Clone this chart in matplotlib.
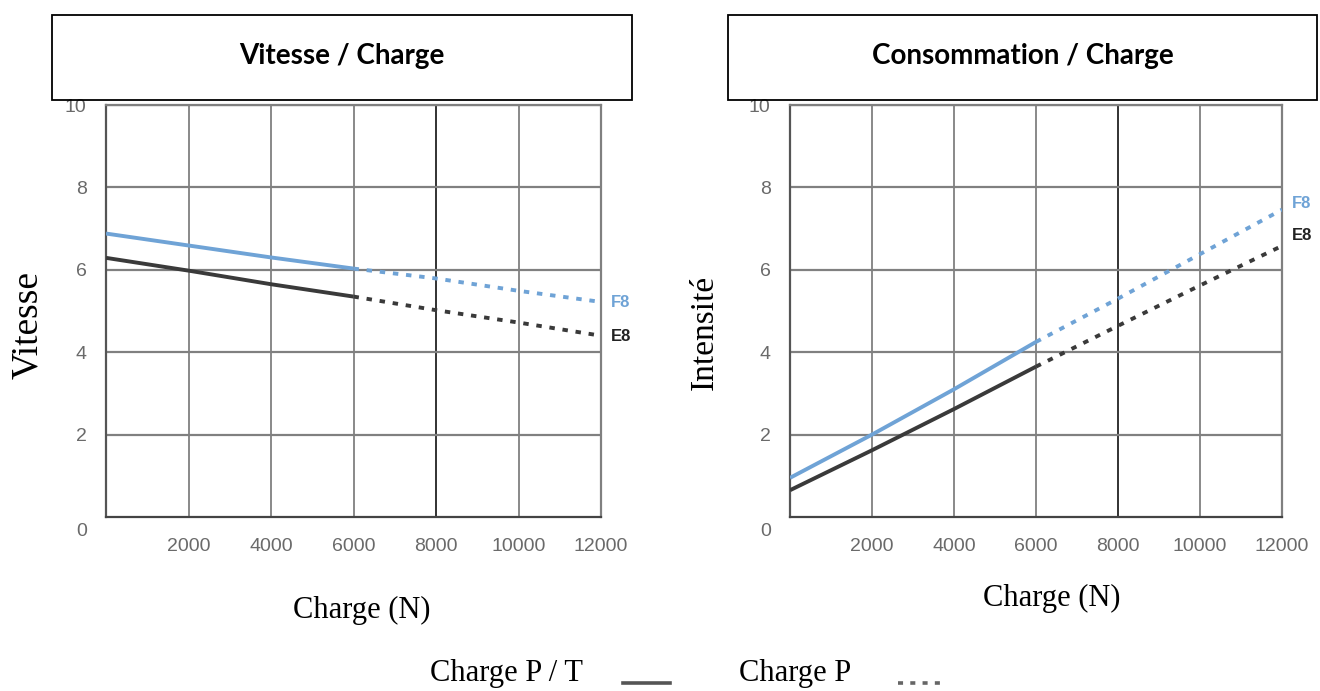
import numpy as np
import matplotlib.pyplot as plt
from matplotlib.patches import Rectangle
from matplotlib.lines import Line2D

# data
charge = [0, 2000, 4000, 6000]          # Charge P / T (solid)
charge_p = [6000, 8000, 10000, 12000]   # Charge P (dashed)

vit_f8 = [6.88, 6.59, 6.30, 6.03]
vit_f8_p = [6.03, 5.79, 5.49, 5.22]
vit_e8 = [6.29, 5.98, 5.65, 5.35]
vit_e8_p = [5.35, 5.02, 4.72, 4.40]

int_f8 = [0.95, 2.0, 3.1, 4.25]
int_f8_p = [4.25, 5.3, 6.38, 7.46]
int_e8 = [0.65, 1.62, 2.62, 3.65]
int_e8_p = [3.65, 4.64, 5.62, 6.58]

xticks = [2000, 4000, 6000, 8000, 10000, 12000]
yticks = [2, 4, 6, 8, 10]

blue = '#6fa3d6'
dark = '#3a3a3a'
gridc = '#808080'
tickc = '#6a6a6a'

fig = plt.figure(figsize=(13.2, 6.91), dpi=100)
W, H = 1320.0, 691.0

def panel(rect, f8, f8p, e8, e8p, ylabel, ysize, ylab_xy, xlab_xy, f8_lab, e8_lab):
    ax = fig.add_axes(rect)
    ax.set_xlim(0, 12000)
    ax.set_ylim(0, 10)
    for v in xticks:
        ax.axvline(v, color=gridc if v != 8000 else '#222222', lw=1.3, zorder=1)
    for v in yticks:
        ax.axhline(v, color=gridc, lw=1.6, zorder=1)
    for s in ax.spines.values():
        s.set_color(gridc)
        s.set_linewidth(1.6)
    ax.spines['bottom'].set_color('#444444')
    ax.spines['left'].set_color('#555555')
    ax.plot(charge, f8, color=blue, lw=2.8, solid_capstyle='butt', zorder=3)
    ax.plot(charge_p, f8p, color=blue, lw=2.8, dashes=(1.4, 2.0), zorder=3)
    ax.plot(charge, e8, color=dark, lw=2.8, solid_capstyle='butt', zorder=3)
    ax.plot(charge_p, e8p, color=dark, lw=2.8, dashes=(1.4, 2.0), zorder=3)
    ax.set_xticks(xticks)
    ax.set_xticklabels([str(t) for t in xticks], color=tickc, fontsize=14,
                       family='Liberation Sans')
    ax.set_yticks(yticks)
    ax.set_yticklabels([str(t) for t in yticks], color=tickc, fontsize=14,
                       family='Liberation Sans')
    ax.tick_params(axis='x', length=0, pad=15)
    ax.tick_params(axis='y', length=0, pad=14)
    ax.text(-0.05, -0.035, '0', transform=ax.transAxes, color=tickc, fontsize=14,
            family='Liberation Sans', ha='center', va='center')
    ax.text(12250, f8_lab, 'F8', color=blue, fontsize=12, fontweight='bold',
            family='Liberation Sans', va='center', ha='left', clip_on=False)
    ax.text(12250, e8_lab, 'E8', color='#222222', fontsize=12, fontweight='bold',
            family='Liberation Sans', va='center', ha='left', clip_on=False)
    fig.text(ylab_xy[0], ylab_xy[1], ylabel, rotation=90, ha='center', va='center',
             family='Liberation Serif', fontsize=ysize)
    fig.text(xlab_xy[0], xlab_xy[1], 'Charge (N)', ha='center', va='center',
             family='Liberation Serif', fontsize=22)
    return ax

panel([106 / W, 1 - 517 / H, 495 / W, 412 / H], vit_f8, vit_f8_p, vit_e8, vit_e8_p,
      'Vitesse', 27, (28 / W, 1 - 325 / H), (362 / W, 1 - 610 / H), 5.2, 4.37)
panel([790 / W, 1 - 517 / H, 492 / W, 412 / H], int_f8, int_f8_p, int_e8, int_e8_p,
      'Intensité', 24, (705 / W, 1 - 332 / H), (1052 / W, 1 - 598 / H), 7.62, 6.84)

# title boxes
for x0, x1, title in [(52, 632, 'Vitesse / Charge'), (728, 1317, 'Consommation / Charge')]:
    fig.patches.append(Rectangle((x0 / W, 1 - 100 / H), (x1 - x0) / W, 85 / H,
                                 transform=fig.transFigure, fill=False,
                                 edgecolor='black', lw=1.3))
    fig.text((x0 + x1) / 2 / W, 1 - 56 / H, title, ha='center', va='center',
             family='Lato', fontweight='bold', fontsize=20)

# legend at the bottom
fig.text(507 / W, 1 - 673 / H, 'Charge P / T', ha='center', va='center',
         family='Liberation Serif', fontsize=22)
fig.lines.append(Line2D([623 / W, 670 / W], [1 - 683 / H, 1 - 683 / H],
                        transform=fig.transFigure, color='#555555', lw=2.6))
fig.text(795 / W, 1 - 673 / H, 'Charge P', ha='center', va='center',
         family='Liberation Serif', fontsize=22)
fig.lines.append(Line2D([898 / W, 946 / W], [1 - 683 / H, 1 - 683 / H],
                        transform=fig.transFigure, color='#666666', lw=2.6,
                        dashes=(1.4, 2.0)))

plt.savefig('out.png', dpi=100)
